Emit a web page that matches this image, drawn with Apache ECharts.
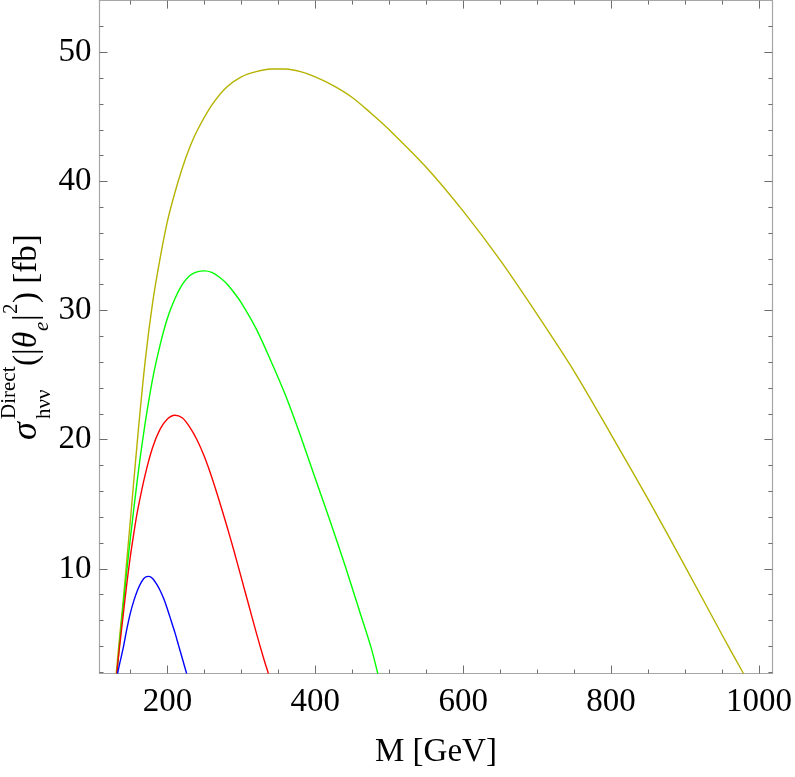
<!DOCTYPE html>
<html>
<head>
<meta charset="utf-8">
<script src="https://cdn.jsdelivr.net/npm/echarts@6/dist/echarts.min.js"></script>
<style>html,body{margin:0;padding:0;background:#fff;}#c{width:795px;height:777px;}</style>
</head>
<body>
<div id="c"></div>
<script>
// ---- data ----
const blueM = [132.6, 136, 140, 145, 150, 155, 160, 165, 170, 175, 180, 185, 190, 195, 200, 205, 210, 215, 220, 226];
const blueS = [1.9, 2.8, 3.8, 5.3, 6.6, 7.6, 8.4, 9.0, 9.35, 9.42, 9.25, 8.85, 8.35, 7.7, 6.9, 6.0, 5.1, 4.1, 3.1, 1.9];

const redM = [131.5, 135, 140, 145, 150, 155, 160, 170, 180, 190, 200, 210, 220, 230, 240, 250, 260, 270, 280, 290, 300, 310, 320, 330, 336.6];
const redS = [1.9, 3.8, 6.3, 8.8, 11.0, 12.9, 14.6, 17.3, 19.4, 20.8, 21.6, 21.9, 21.7, 21.0, 20.0, 18.7, 17.1, 15.3, 13.4, 11.4, 9.3, 7.2, 5.1, 3.1, 1.9];

const greenM = [131.8, 135, 140, 145, 150, 160, 170, 180, 190, 200, 210, 220, 230, 240, 250, 260, 270, 280, 290, 300, 320, 340, 360, 380, 400, 420, 440, 460, 475, 484.5];
const greenS = [1.9, 4.0, 7.0, 9.8, 12.4, 17.2, 21.3, 24.7, 27.3, 29.4, 30.9, 32.0, 32.7, 33.0, 33.07, 32.95, 32.6, 32.1, 31.4, 30.6, 28.6, 26.1, 23.4, 20.3, 17.0, 13.7, 10.3, 6.7, 4.0, 1.9];

const oliveM = [130.8, 135, 140, 145, 150, 160, 170, 180, 190, 200, 210, 220, 230, 240, 260, 280, 300, 320, 340, 360, 380, 400, 425, 450, 475, 500, 550, 600, 650, 700, 750, 800, 850, 900, 950, 979];
const oliveS = [1.9, 4.5, 7.4, 10.6, 13.8, 20.3, 26.1, 30.6, 34.0, 36.9, 39.1, 41.0, 42.6, 43.9, 45.9, 47.3, 48.1, 48.5, 48.7, 48.7, 48.5, 48.1, 47.4, 46.5, 45.3, 44.0, 41.1, 37.7, 33.9, 29.7, 25.3, 20.4, 15.4, 10.2, 4.9, 1.9];

const xMajor = [200, 400, 600, 800, 1000];
const xMinor = [150, 250, 300, 350, 450, 500, 550, 650, 700, 750, 850, 900, 950];
const yMajor = [10, 20, 30, 40, 50];
const yMinor = [2, 4, 6, 8, 12, 14, 16, 18, 22, 24, 26, 28, 32, 34, 36, 38, 42, 44, 46, 48, 52];

const X_MIN = 108.2, X_MAX = 1018.1, Y_MIN = 1.9, Y_MAX = 54.0;

function pairs(m, s) { return m.map((v, i) => [v, s[i]]); }

const FONT = 'Liberation Serif';
const frameColor = '#a6a6a6';
const tickColor = '#6e6e6e';

function xAx(pos, vals, len, labels, line) {
  return {
    type: 'value', min: X_MIN, max: X_MAX, position: pos,
    axisLine: { show: line, onZero: false, lineStyle: { color: frameColor, width: 1.2 } },
    axisTick: { show: true, inside: true, length: len, customValues: vals, lineStyle: { color: tickColor, width: 1 } },
    axisLabel: labels ? { show: true, customValues: vals, formatter: v => String(v), color: '#000', fontFamily: FONT, fontSize: 33, margin: 12 } : { show: false },
    splitLine: { show: false }
  };
}
function yAx(pos, vals, len, labels, line) {
  return {
    type: 'value', min: Y_MIN, max: Y_MAX, position: pos,
    axisLine: { show: line, onZero: false, lineStyle: { color: frameColor, width: 1.2 } },
    axisTick: { show: true, inside: true, length: len, customValues: vals, lineStyle: { color: tickColor, width: 1 } },
    axisLabel: labels ? { show: true, customValues: vals, formatter: v => String(v), color: '#000', fontFamily: FONT, fontSize: 33, margin: 8 } : { show: false },
    splitLine: { show: false }
  };
}

const xAxes = [
  Object.assign(xAx('bottom', xMajor, 8, true, true), {
    name: 'M [GeV]', nameLocation: 'middle', nameGap: 62,
    nameTextStyle: { color: '#000', fontFamily: FONT, fontSize: 33 }
  }),
  xAx('bottom', xMinor, 4, false, false),
  xAx('top', xMajor, 8, false, true),
  xAx('top', xMinor, 4, false, false)
];
const yAxes = [
  yAx('left', yMajor, 8, true, true),
  yAx('left', yMinor, 4, false, false),
  yAx('right', yMajor, 8, false, true),
  yAx('right', yMinor, 4, false, false)
];

function line(m, s, color) {
  return {
    type: 'line', xAxisIndex: 0, yAxisIndex: 0, data: pairs(m, s),
    showSymbol: false, smooth: 0.3, clip: true,
    lineStyle: { color: color, width: 1.4 }, itemStyle: { color: color }
  };
}

const T = 33, S = 21;
const titleChildren = [
  { type: 'text', x: 0, y: -11, style: { text: 'σ', font: 'italic 36px ' + FONT, fill: '#000', verticalAlign: 'middle', align: 'left' } },
  { type: 'text', x: 21, y: -29, style: { text: 'Direct', font: S + 'px ' + FONT, fill: '#000', verticalAlign: 'middle', align: 'left' } },
  { type: 'text', x: 21, y: 6, style: { text: 'hνν', font: S + 'px ' + FONT, fill: '#000', verticalAlign: 'middle', align: 'left' } },
  { type: 'text', x: 74, y: -11, style: { text: '(|', font: T + 'px ' + FONT, fill: '#000', verticalAlign: 'middle', align: 'left' } },
  { type: 'text', x: 92, y: -11, style: { text: 'θ', font: 'italic ' + T + 'px ' + FONT, fill: '#000', verticalAlign: 'middle', align: 'left' } },
  { type: 'text', x: 109, y: 4, style: { text: 'e', font: 'italic ' + S + 'px ' + FONT, fill: '#000', verticalAlign: 'middle', align: 'left' } },
  { type: 'text', x: 119, y: -11, style: { text: '|', font: T + 'px ' + FONT, fill: '#000', verticalAlign: 'middle', align: 'left' } },
  { type: 'text', x: 126, y: -27, style: { text: '2', font: S + 'px ' + FONT, fill: '#000', verticalAlign: 'middle', align: 'left' } },
  { type: 'text', x: 137, y: -11, style: { text: ') [fb]', font: T + 'px ' + FONT, fill: '#000', verticalAlign: 'middle', align: 'left' } }
];

const chart = echarts.init(document.getElementById('c'), null, { renderer: 'canvas' });
chart.setOption({
  animation: false,
  backgroundColor: '#fff',
  grid: { left: 99.5, right: 22.3, top: 0.6, bottom: 103.5, containLabel: false },
  xAxis: xAxes,
  yAxis: yAxes,
  series: [
    line(oliveM, oliveS, '#b5b300'),
    line(greenM, greenS, '#00ff00'),
    line(redM, redS, '#ff0000'),
    line(blueM, blueS, '#0000ff')
  ],
  graphic: [
    { type: 'group', x: 38, y: 440, rotation: Math.PI / 2, children: titleChildren }
  ]
});
</script>
</body>
</html>
